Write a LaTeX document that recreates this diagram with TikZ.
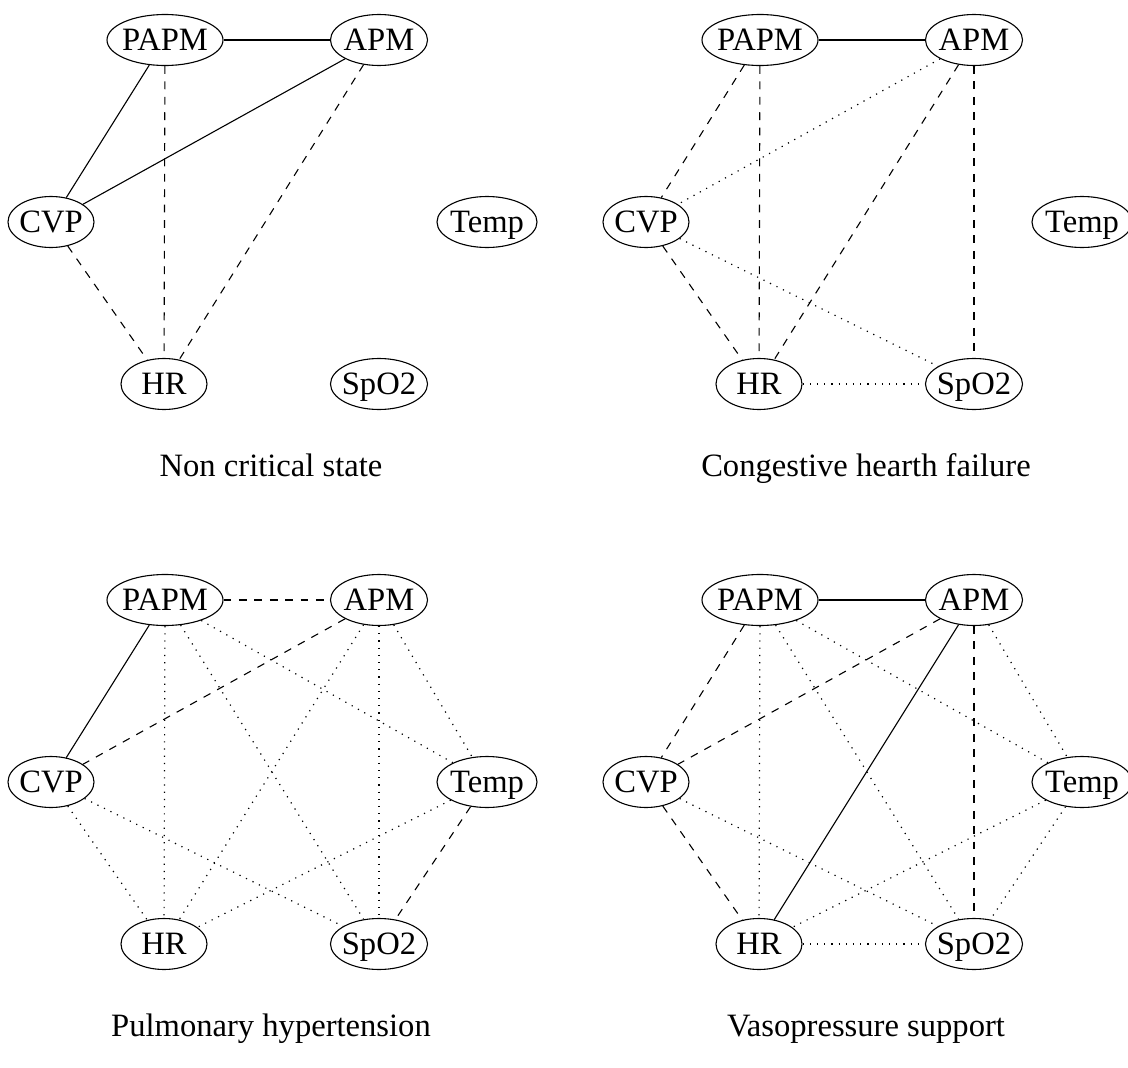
\documentclass[tikz,border=0pt]{standalone}
\usepackage{fontspec}
\setmainfont{Liberation Serif}
\usetikzlibrary{shapes.geometric}
\tikzset{
  txt/.style={font=\fontsize{32.6pt}{39pt}\selectfont, text height=21.5pt, text depth=0pt, inner sep=0pt},
  vn/.style={ellipse, draw, line width=1.1pt, minimum height=51pt, inner sep=0pt},
  captxt/.style={txt},
  sol/.style={line width=1.1pt},
  dsh/.style={line width=1.1pt, dash pattern=on 7.8pt off 7.6pt},
  dt/.style={line width=1.2pt, dash pattern=on 1.2pt off 6pt},
}
\newcommand\mkpanel[4]{%
  \begin{scope}[shift={(#2,#3)}]
    \node[vn, minimum width=116pt, label={[txt]center:PAPM}] (#1papm) at (165,40) {};
    \node[vn, minimum width=97pt,  label={[txt]center:APM}]  (#1apm)  at (379,40) {};
    \node[vn, minimum width=86pt,  label={[txt]center:CVP}]  (#1cvp)  at (51,222) {};
    \node[vn, minimum width=100pt, label={[txt]center:Temp}] (#1temp) at (487,222) {};
    \node[vn, minimum width=86pt,  label={[txt]center:HR}]   (#1hr)   at (164,384) {};
    \node[vn, minimum width=97pt,  label={[txt]center:SpO2}] (#1spo)  at (379,384) {};
    \node[captxt] (#1cap) at (271,466) {#4};
  \end{scope}}
\begin{document}
\begin{tikzpicture}[x=1pt,y=-1pt]
\useasboundingbox (0,0) rectangle (1128,1068);
\mkpanel{a}{0}{0}{Non critical state}
\mkpanel{b}{595}{0}{Congestive hearth failure}
\mkpanel{c}{0}{560}{Pulmonary hypertension}
\mkpanel{d}{595}{560}{Vasopressure support}
% panel a
\draw[sol] (apapm) -- (aapm);
\draw[sol] (apapm) -- (acvp);
\draw[sol] (aapm) -- (acvp);
\draw[dsh] (apapm) -- (ahr);
\draw[dsh] (aapm) -- (ahr);
\draw[dsh] (acvp) -- (ahr);
% panel b
\draw[sol] (bpapm) -- (bapm);
\draw[dsh] (bpapm) -- (bcvp);
\draw[dsh] (bpapm) -- (bhr);
\draw[dt]  (bapm) -- (bcvp);
\draw[dsh] (bapm) -- (bhr);
\draw[dsh] (bapm) -- (bspo);
\draw[dsh] (bcvp) -- (bhr);
\draw[dt]  (bcvp) -- (bspo);
\draw[dt]  (bhr) -- (bspo);
% panel c
\draw[dsh] (cpapm) -- (capm);
\draw[sol] (cpapm) -- (ccvp);
\draw[dt]  (cpapm) -- (chr);
\draw[dt]  (cpapm) -- (cspo);
\draw[dt]  (cpapm) -- (ctemp);
\draw[dsh] (capm) -- (ccvp);
\draw[dt]  (capm) -- (chr);
\draw[dt]  (capm) -- (cspo);
\draw[dt]  (capm) -- (ctemp);
\draw[dt]  (ccvp) -- (chr);
\draw[dt]  (ccvp) -- (cspo);
\draw[dt]  (ctemp) -- (chr);
\draw[dsh] (ctemp) -- (cspo);
% panel d
\draw[sol] (dpapm) -- (dapm);
\draw[dsh] (dpapm) -- (dcvp);
\draw[dt]  (dpapm) -- (dhr);
\draw[dt]  (dpapm) -- (dspo);
\draw[dt]  (dpapm) -- (dtemp);
\draw[dsh] (dapm) -- (dcvp);
\draw[sol] (dapm) -- (dhr);
\draw[dsh] (dapm) -- (dspo);
\draw[dt]  (dapm) -- (dtemp);
\draw[dsh] (dcvp) -- (dhr);
\draw[dt]  (dcvp) -- (dspo);
\draw[dt]  (dtemp) -- (dhr);
\draw[dt]  (dtemp) -- (dspo);
\draw[dt]  (dhr) -- (dspo);
\end{tikzpicture}
\end{document}
